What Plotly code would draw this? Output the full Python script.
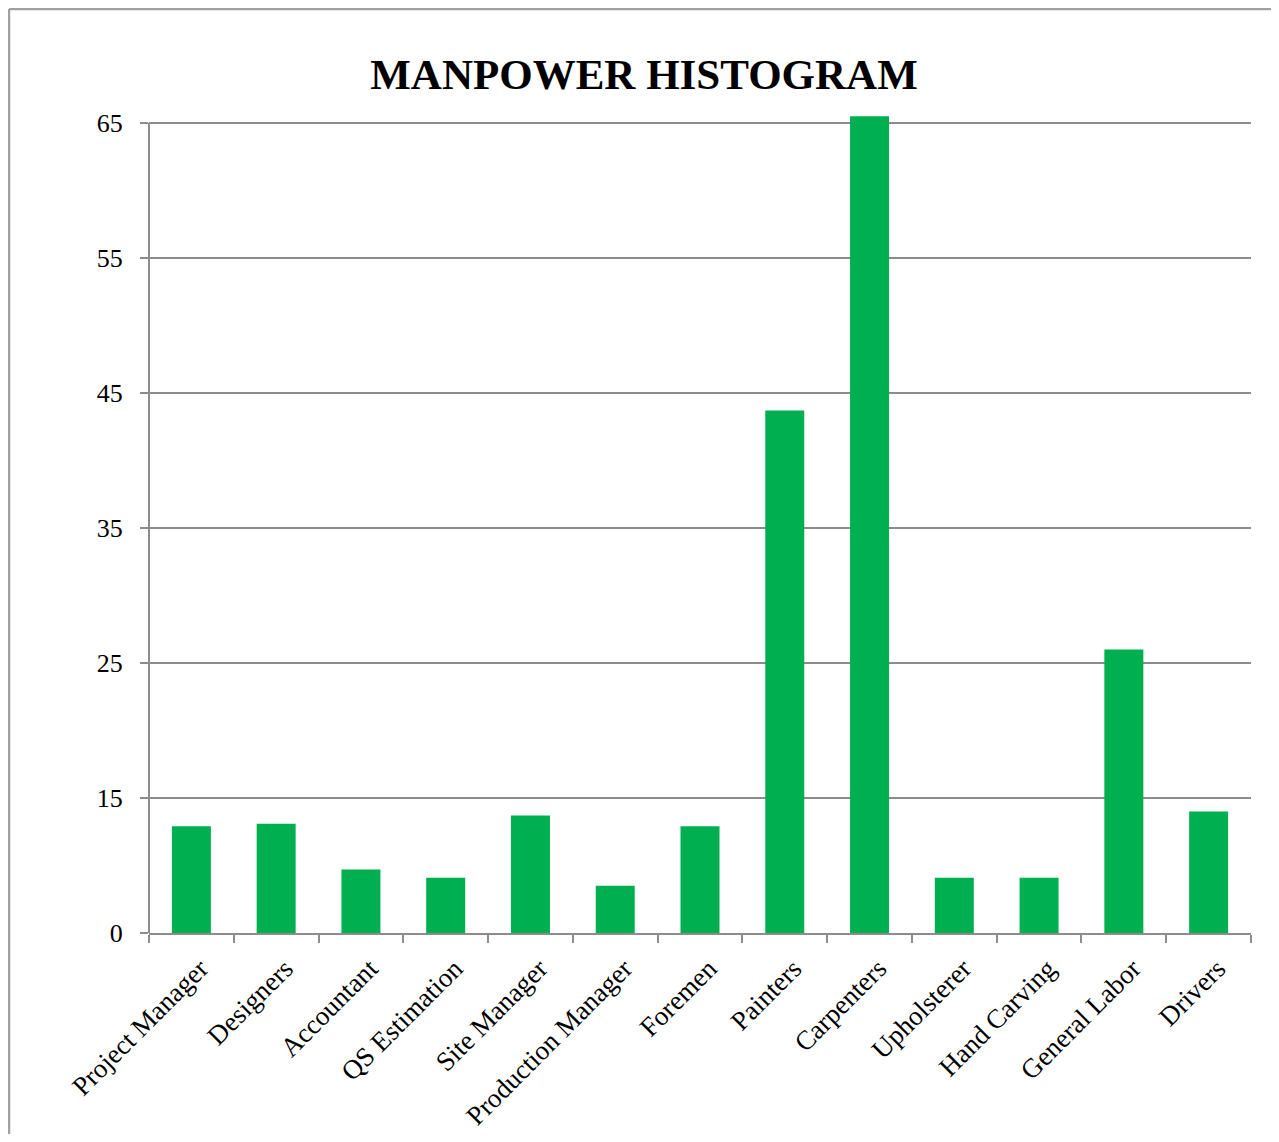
import plotly.graph_objects as go

categories = ["Project Manager", "Designers", "Accountant", "QS Estimation", "Site Manager",
              "Production Manager", "Foremen", "Painters", "Carpenters", "Upholsterer",
              "Hand Carving", "General Labor", "Drivers"]
values = [12.9, 13.1, 9.7, 9.1, 13.7, 8.5, 12.9, 43.7, 65.5, 9.1, 9.1, 26.0, 14.0]
tick_vals = [5, 15, 25, 35, 45, 55, 65]
tick_text = ["0", "15", "25", "35", "45", "55", "65"]

# page body has an 8px margin; figure is placed at (8, 8)
OFF = 8
W, H = 1279 - 2 * OFF, 1142 - 2 * OFF
plot_left, plot_right, plot_top, plot_bottom = 149, 1251, 115, 933
ml = plot_left - OFF
mt = plot_top - OFF
mr = W - (plot_right - OFF)
mb = H - (plot_bottom - OFF)
pw, ph = W - ml - mr, H - mt - mb

def px_x(x):
    return (x - OFF - ml) / pw

def px_y(y):
    return (plot_bottom - y) / ph

grid_col = "#8c8c8c"
font_fam = "Liberation Serif, Times New Roman, serif"

fig = go.Figure(go.Bar(x=categories, y=values, marker_color="#00B050", marker_line_width=0))

fig.update_layout(
    width=W, height=H,
    margin=dict(l=ml, r=mr, t=mt, b=mb),
    paper_bgcolor="white", plot_bgcolor="white",
    bargap=0.54,
    showlegend=False,
    title=dict(text="<b>MANPOWER HISTOGRAM</b>", x=(644 - OFF) / W, xanchor="center",
               y=1 - (74 - OFF) / H, yanchor="middle", yref="container",
               font=dict(family=font_fam, size=43, color="black")),
    font=dict(family=font_fam, color="black"),
)
fig.update_xaxes(
    tickson="boundaries", ticks="outside", ticklen=8, tickwidth=2, tickcolor=grid_col,
    showline=True, linecolor=grid_col, linewidth=2, showgrid=False,
    tickangle=-45, ticklabelshift=9, ticklabelstandoff=7, automargin=False,
    tickfont=dict(family=font_fam, size=27, color="black"),
)
fig.update_yaxes(
    range=[5, 65.6], tickvals=tick_vals, ticktext=tick_text,
    showgrid=True, gridcolor=grid_col, gridwidth=2,
    ticks="outside", ticklen=8, tickwidth=2, tickcolor=grid_col,
    showline=False, zeroline=False, ticklabelstandoff=12, automargin=False,
    tickfont=dict(family=font_fam, size=26, color="black"),
)
# y axis line from bottom to top gridline
fig.add_shape(type="line", xref="paper", yref="y", x0=0, x1=0, y0=5, y1=65,
              line=dict(color=grid_col, width=2))
# outer border (left and top)
fig.add_shape(type="line", xref="paper", yref="paper", x0=px_x(9), x1=px_x(9),
              y0=px_y(9), y1=px_y(1150), line=dict(color="#a0a0a0", width=2.5))
fig.add_shape(type="line", xref="paper", yref="paper", x0=px_x(9), x1=px_x(1290),
              y0=px_y(9), y1=px_y(9), line=dict(color="#a0a0a0", width=2.5))

fig.write_html("out.html")
